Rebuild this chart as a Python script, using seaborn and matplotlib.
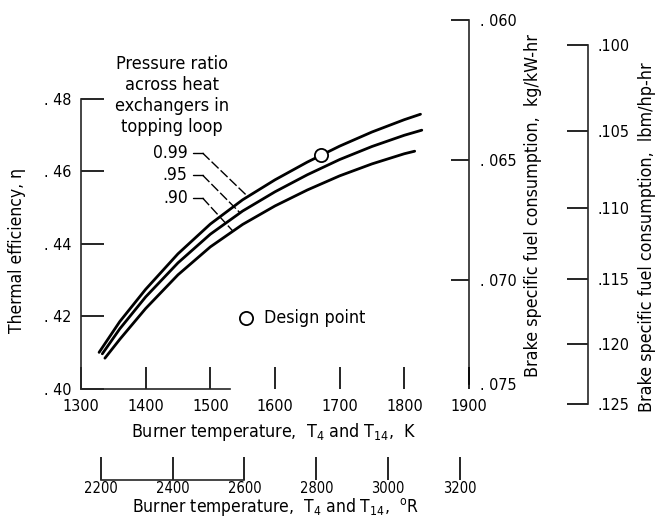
import numpy as np
import pandas as pd
import seaborn as sns
import matplotlib.pyplot as plt
from matplotlib import font_manager

# Burner temperature (K) and thermal efficiency for each pressure ratio
temp_099 = [1328, 1360, 1400, 1450, 1500, 1550, 1600, 1650, 1700, 1750, 1800, 1825]
eta_099 = [0.4101, 0.4186, 0.4275, 0.4373, 0.4455, 0.4522, 0.4577, 0.4626, 0.4670, 0.4709, 0.4743, 0.4758]
temp_095 = [1333, 1360, 1400, 1450, 1500, 1550, 1600, 1650, 1700, 1750, 1800, 1827]
eta_095 = [0.4097, 0.4166, 0.4254, 0.4348, 0.4427, 0.4491, 0.4544, 0.4591, 0.4633, 0.4669, 0.4700, 0.4714]
temp_090 = [1337, 1360, 1400, 1450, 1500, 1550, 1600, 1650, 1700, 1750, 1800, 1816]
eta_090 = [0.4085, 0.4137, 0.4222, 0.4315, 0.4392, 0.4454, 0.4505, 0.4549, 0.4588, 0.4621, 0.4649, 0.4656]
ratio_labels = ["0.99", ".95", ".90"]

design_temp = 1671

# axis ticks
k_ticks = [1300, 1400, 1500, 1600, 1700, 1800, 1900]
r_ticks = [2200, 2400, 2600, 2800, 3000, 3200]
eta_ticks = [0.40, 0.42, 0.44, 0.46, 0.48]
eta_ticklabels = [". 40", ". 42", ". 44", ". 46", ". 48"]
kg_ticks = [0.060, 0.065, 0.070, 0.075]
kg_ticklabels = [". 060", ". 065", ". 070", ". 075"]
lbm_ticks = [0.100, 0.105, 0.110, 0.115, 0.120, 0.125]
lbm_ticklabels = [".100", ".105", ".110", ".115", ".120", ".125"]

# bsfc = const / efficiency
KG_CONST = 0.0301
LBM_CONST = KG_CONST * 1.644
R_OFFSET = -195  # degree R scale as drawn in the original

sns.set_style("ticks")
# use a condensed face if one is installed
narrow = [f.name for f in font_manager.fontManager.ttflist
          if f.stretch in ('condensed', 'semi-condensed', 'extra-condensed')
          or 'Narrow' in f.name or 'Condensed' in f.name]
if narrow:
    plt.rcParams['font.family'] = [narrow[0], 'DejaVu Sans']
    plt.rcParams['font.stretch'] = 'condensed'
else:
    plt.rcParams['font.family'] = ['Liberation Sans', 'DejaVu Sans']
plt.rcParams['mathtext.fontset'] = 'custom'
plt.rcParams['mathtext.rm'] = plt.rcParams['font.family'][0]
plt.rcParams['axes.linewidth'] = 1.2
plt.rcParams['text.color'] = 'black'
plt.rcParams['xtick.color'] = 'black'
plt.rcParams['ytick.color'] = 'black'

df = pd.concat([
    pd.DataFrame({'T': temp_099, 'eta': eta_099, 'ratio': '0.99'}),
    pd.DataFrame({'T': temp_095, 'eta': eta_095, 'ratio': '0.95'}),
    pd.DataFrame({'T': temp_090, 'eta': eta_090, 'ratio': '0.90'}),
])

fig = plt.figure(figsize=(6.6, 5.27), dpi=100)
ax = fig.add_axes([0.1227, 0.1931, 0.5879, 0.791])

sns.lineplot(data=df, x='T', y='eta', hue='ratio', palette=['black'] * 3,
             lw=2.0, legend=False, estimator=None, ax=ax)

# design point
ax.plot([design_temp], [np.interp(design_temp, temp_099, eta_099)], 'o',
        ms=9.5, mfc='white', mec='black', mew=1.3, zorder=5)
ax.plot([1555], [0.4196], 'o', ms=9.5, mfc='white', mec='black', mew=1.3)
ax.text(1583, 0.4196, "Design point", fontsize=12.8, va='center', ha='left')

ax.set_xlim(1300, 1900)
ax.set_ylim(0.39, 0.505)
ax.set_xlabel("")
ax.set_ylabel("")

for s in ['top', 'right']:
    ax.spines[s].set_visible(False)
ax.spines['bottom'].set_position(('data', 0.40))
ax.spines['bottom'].set_bounds(1300, 1530)
ax.spines['left'].set_bounds(0.40, 0.48)

ax.set_xticks(k_ticks, labels=[str(t) for t in k_ticks])
ax.set_yticks(eta_ticks, labels=eta_ticklabels)
ax.tick_params(axis='x', direction='in', length=16, width=1.2, pad=7, labelsize=11.5)
ax.tick_params(axis='y', direction='in', length=16.5, width=1.2, pad=7, labelsize=11.5)

# bsfc axes on the right
kg = ax.secondary_yaxis(1.0, functions=(lambda e: KG_CONST / e, lambda s: KG_CONST / s))
kg.set_yticks(kg_ticks, labels=kg_ticklabels)
kg.spines['right'].set_bounds(0.060, 0.075)
kg.spines['right'].set_linewidth(1.2)
kg.tick_params(direction='in', length=13, width=1.2, pad=8, labelsize=11.5)
for t in kg.yaxis.get_major_ticks():
    if abs(t.get_loc() - 0.075) < 1e-6:
        t.tick1line.set_visible(False)
        t.tick2line.set_visible(False)

lbm = ax.secondary_yaxis(1.307, functions=(lambda e: LBM_CONST / e, lambda s: LBM_CONST / s))
lbm.set_yticks(lbm_ticks, labels=lbm_ticklabels)
lbm.spines['right'].set_bounds(0.100, 0.125)
lbm.spines['right'].set_linewidth(1.2)
lbm.tick_params(direction='in', length=15, width=1.2, pad=7, labelsize=11.5)

# degree R axis below
rx = ax.secondary_xaxis(-0.1313, functions=(lambda k: 1.8 * k + R_OFFSET,
                                            lambda r: (r - R_OFFSET) / 1.8))
rx.set_xticks(r_ticks, labels=[str(t) for t in r_ticks])
rx.spines['bottom'].set_bounds(2200, 2600)
rx.spines['bottom'].set_linewidth(1.2)
rx.tick_params(direction='in', length=16.5, width=1.2, pad=0.5, labelsize=10.5)

# axis titles
ax.text(-0.165, 0.418, "Thermal efficiency, η", transform=ax.transAxes,
        rotation=90, ha='center', va='center', fontsize=12.5)
ax.text(0.497, -0.0282, r"Burner temperature,  T$_4$ and T$_{14}$,  K",
        transform=ax.transAxes, ha='center', va='baseline', fontsize=12.8)
ax.text(0.5, -0.2090, r"Burner temperature,  T$_4$ and T$_{14}$,  $^{\rm o}$R",
        transform=ax.transAxes, ha='center', va='baseline', fontsize=12.5)
ax.text(1.165, 0.528, "Brake specific fuel consumption,  kg/kW-hr",
        transform=ax.transAxes, rotation=90, ha='center', va='center', fontsize=12.8)
ax.text(1.459, 0.4516, "Brake specific fuel consumption,  lbm/hp-hr",
        transform=ax.transAxes, rotation=90, ha='center', va='center', fontsize=12.8)

# pressure ratio labels with leader lines
ax.text(0.2345, 0.791, "Pressure ratio\nacross heat\nexchangers in\ntopping loop",
        transform=ax.transAxes, ha='center', va='center', fontsize=13, linespacing=1.2)
label_eta = [0.4651, 0.4590, 0.4527]
leader_end = [1558, 1546, 1535]
curves = [(temp_099, eta_099), (temp_095, eta_095), (temp_090, eta_090)]
for lab, ye, xe, (tt, ee) in zip(ratio_labels, label_eta, leader_end, curves):
    ax.text(1465, ye, lab, ha='right', va='center', fontsize=12.5)
    ax.plot([1473, 1488], [ye, ye], color='black', lw=1.0)
    ax.plot([1488, xe], [ye, np.interp(xe, tt, ee)], color='black', lw=1.0,
            dashes=(7, 2))

fig.savefig("out.png", dpi=100)
